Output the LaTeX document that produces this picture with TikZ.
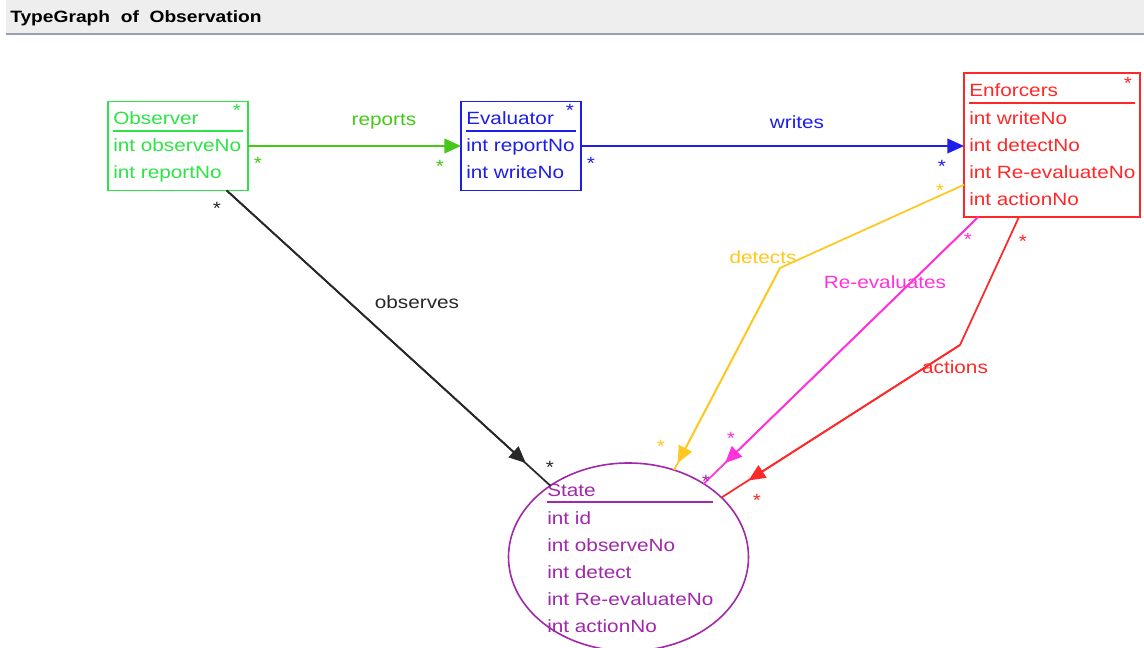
\documentclass[tikz,border=0pt]{standalone}
\usepackage{fontspec}
\setmainfont{Liberation Sans}[FakeStretch=1.17]
\usetikzlibrary{arrows.meta,shapes.geometric}

\definecolor{obsgreen}{RGB}{45,228,70}
\definecolor{relgreen}{RGB}{70,200,25}
\definecolor{evalblue}{RGB}{30,30,235}
\definecolor{enfred}{RGB}{255,40,40}
\definecolor{detyellow}{RGB}{255,200,30}
\definecolor{remagenta}{RGB}{255,50,220}
\definecolor{statepurple}{RGB}{160,40,170}
\definecolor{obsblack}{RGB}{40,40,40}
\definecolor{barfill}{RGB}{238,238,238}
\definecolor{barline}{RGB}{150,160,175}

\newcommand{\txtfont}{\fontsize{13.3pt}{15pt}\selectfont}
\newcommand{\ttlfont}{\fontsize{12.3pt}{14pt}\selectfont\bfseries}

\tikzset{
  classbox/.style={draw, rectangle, line width=1.3pt, inner sep=0pt, outer sep=0pt},
  stateshape/.style={draw, ellipse, line width=1.2pt, inner sep=0pt, outer sep=0pt},
  txt/.style={font=\txtfont, inner sep=0pt, anchor=base west},
  lbl/.style={font=\txtfont, inner sep=0pt, anchor=center},
  mult/.style={font=\txtfont, inner sep=0pt, anchor=north},
  rel/.style={line width=1.3pt},
  tip/.style={rel, -{Triangle[length=12.5pt,width=11pt]}},
  sep/.style={line width=1.3pt}
}

\begin{document}
\begin{tikzpicture}[x=0.75pt,y=-0.75pt]
\useasboundingbox (0,0) rectangle (1144,648);
\fill[white] (0,0) rectangle (1144,648);

% title bar
\fill[barfill] (6,0) rectangle (1144,34);
\draw[barline, line width=1.5pt] (6,34.5) -- (1144,34.5);
\node[txt, font=\ttlfont] (title) at (10,23) {TypeGraph\ \ of\ \ Observation};

% Observer
\node[classbox, obsgreen, minimum width=105pt, minimum height=66.75pt] (obs) at (178,146) {};
\node[txt, obsgreen] (obsname) at (113,125) {Observer};
\draw[sep, obsgreen] (113,131) -- (243,131);
\node[txt, obsgreen] (obsa1) at (113,152) {int observeNo};
\node[txt, obsgreen] (obsa2) at (113,179) {int reportNo};
\node[mult, obsgreen] (obsstar) at (237,104.5) {*};

% Evaluator
\node[classbox, evalblue, minimum width=90pt, minimum height=66.75pt] (eval) at (521,146) {};
\node[txt, evalblue] (evalname) at (466,125) {Evaluator};
\draw[sep, evalblue] (466,131) -- (576,131);
\node[txt, evalblue] (evala1) at (466,152) {int reportNo};
\node[txt, evalblue] (evala2) at (466,179) {int writeNo};
\node[mult, evalblue] (evalstar) at (570,104.5) {*};

% Enforcers
\node[classbox, enfred, minimum width=132pt, minimum height=108pt] (enf) at (1052,145) {};
\node[txt, enfred] (enfname) at (969,97) {Enforcers};
\draw[sep, enfred] (969,103) -- (1135,103);
\node[txt, enfred] (enfa1) at (969,125) {int writeNo};
\node[txt, enfred] (enfa2) at (969,152) {int detectNo};
\node[txt, enfred] (enfa3) at (969,179) {int Re-evaluateNo};
\node[txt, enfred] (enfa4) at (969,206) {int actionNo};
\node[mult, enfred] (enfstar) at (1128,77.5) {*};

% State
\node[stateshape, statepurple, minimum width=180pt, minimum height=141pt] (state) at (628.5,557) {};
\node[rectangle, inner sep=0pt, outer sep=0pt, minimum width=180pt, minimum height=141pt] (statebox) at (628.5,557) {};
\node[txt, statepurple] (statename) at (547,496) {State};
\draw[sep, statepurple] (547,502) -- (713,502);
\node[txt, statepurple] (statea1) at (547,524) {int id};
\node[txt, statepurple] (statea2) at (547,551) {int observeNo};
\node[txt, statepurple] (statea3) at (547,578) {int detect};
\node[txt, statepurple] (statea4) at (547,605) {int Re-evaluateNo};
\node[txt, statepurple] (statea5) at (547,632) {int actionNo};

% bend points
\coordinate (detbend) at (780,268);
\coordinate (actbend) at (960,345);

% reports
\draw[tip, relgreen] (obs) -- (eval);
\node[lbl, relgreen] (reportslbl) at (384,122) {reports};
\node[mult, relgreen] (reps1) at (258,157.5) {*};
\node[mult, relgreen] (reps2) at (440,160.5) {*};

% writes
\draw[tip, evalblue] (eval.east) -- (eval.east -| enf.west);
\node[lbl, evalblue] (writeslbl) at (797,122) {writes};
\node[mult, evalblue] (wrs1) at (591,157.5) {*};
\node[mult, evalblue] (wrs2) at (942,160.5) {*};

% observes
\draw[rel, obsblack] (obs) -- (state);
\draw[tip, obsblack] (obs) -- (statebox);
\node[lbl, obsblack] (observeslbl) at (417,302) {observes};
\node[mult, obsblack] (obss1) at (217,202.5) {*};
\node[mult, obsblack] (obss2) at (550,461.5) {*};

% detects
\draw[rel, detyellow] (enf) -- (detbend) -- (state);
\draw[tip, detyellow] (detbend) -- (statebox);
\node[lbl, detyellow] (detectslbl) at (763,257) {detects};
\node[mult, detyellow] (dets1) at (940,184.5) {*};
\node[mult, detyellow] (dets2) at (661,440.5) {*};

% Re-evaluates
\draw[rel, remagenta] (enf) -- (state);
\draw[tip, remagenta] (enf) -- (statebox);
\node[lbl, remagenta] (reevallbl) at (885,282) {Re-evaluates};
\node[mult, remagenta] (res1) at (968,233.5) {*};
\node[mult, remagenta] (res2) at (731,432.5) {*};
\node[mult, statepurple] (res3) at (706,475.5) {*};

% actions
\draw[rel, enfred] (enf) -- (actbend) -- (state);
\draw[tip, enfred] (actbend) -- (statebox);
\node[lbl, enfred] (actionslbl) at (955,367) {actions};
\node[mult, enfred] (acts1) at (1023,235.5) {*};
\node[mult, enfred] (acts2) at (757,494.5) {*};
\end{tikzpicture}
\end{document}
